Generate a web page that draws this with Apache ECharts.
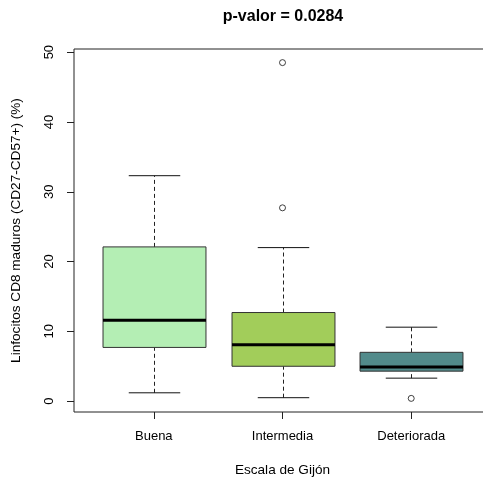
<!DOCTYPE html>
<html>
<head>
<meta charset="utf-8">
<script src="https://cdn.jsdelivr.net/npm/echarts@6/dist/echarts.min.js"></script>
<style>html,body{margin:0;padding:0;background:#fff}#c{width:483px;height:481px}</style>
</head>
<body>
<div id="c"></div>
<script>
var categories = ['Buena', 'Intermedia', 'Deteriorada'];
var lowerWhisker = [1.2, 0.5, 3.3];
var q1 = [7.7, 5.0, 4.3];
var median = [11.6, 8.1, 4.9];
var q3 = [22.1, 12.7, 7.0];
var upperWhisker = [32.3, 22.0, 10.6];
var outlierGroup = [2, 2, 3];
var outlierValue = [48.5, 27.7, 0.4];
var fillColors = ['#B4EEB4', '#A2CD5A', '#528B8B'];
var yTicks = [0, 10, 20, 30, 40, 50];
var titleText = 'p-valor = 0.0284';
var xName = 'Escala de Gijón';
var yName = 'Linfocitos CD8 maduros (CD27-CD57+) (%)';

var font = 'Liberation Sans, Arial, sans-serif';
var boxData = categories.map(function (c, i) {
  return [i + 1, lowerWhisker[i], q1[i], median[i], q3[i], upperWhisker[i]];
});
var outData = outlierGroup.map(function (g, i) { return [g, outlierValue[i]]; });

var chart = echarts.init(document.getElementById('c'), null, {renderer: 'canvas'});
chart.setOption({
  animation: false,
  backgroundColor: '#fff',
  graphic: [{
    type: 'text', x: 283, y: 17,
    style: {text: titleText, font: 'bold 16px ' + font, fill: '#000', align: 'center', verticalAlign: 'middle'}
  }],
  grid: {left: 74, top: 49, right: -8, bottom: 69, show: true, borderColor: '#222', borderWidth: 1,
    backgroundColor: 'transparent', containLabel: false, outerBoundsMode: 'none'},
  xAxis: {
    type: 'value', min: 0.38, max: 3.62,
    splitLine: {show: false},
    axisLine: {show: false, onZero: false},
    axisTick: {show: true, length: 7, customValues: [1, 2, 3], lineStyle: {color: '#222'}},
    axisLabel: {customValues: [1, 2, 3], margin: 18, fontSize: 13, fontFamily: font, color: '#000',
      formatter: function (v) { return categories[Math.round(v) - 1] || ''; }},
    name: xName, nameLocation: 'middle', nameGap: 51,
    nameTextStyle: {fontSize: 13.6, fontFamily: font, color: '#000'}
  },
  yAxis: {
    type: 'value', min: -1.55, max: 50.45,
    splitLine: {show: false},
    axisLine: {show: false, onZero: false},
    axisTick: {show: true, length: 7, customValues: yTicks, lineStyle: {color: '#222'}},
    axisLabel: {customValues: yTicks, rotate: 90, margin: 18, fontSize: 13, fontFamily: font, color: '#000'},
    name: yName, nameLocation: 'middle', nameGap: 51, nameRotate: 90,
    nameTextStyle: {fontSize: 13.6, fontFamily: font, color: '#000'}
  },
  series: [{
    type: 'custom',
    data: boxData,
    encode: {x: 0, y: [1, 2, 3, 4, 5]},
    renderItem: function (params, api) {
      var x = api.value(0);
      var lo = api.coord([x, api.value(1)]);
      var b1 = api.coord([x, api.value(2)]);
      var md = api.coord([x, api.value(3)]);
      var b3 = api.coord([x, api.value(4)]);
      var hi = api.coord([x, api.value(5)]);
      var w = api.size([0.8, 0])[0];
      var cx = Math.round(lo[0]) + 0.5;
      var hw = w / 2, cw = w / 4;
      var dash = {stroke: '#222', lineWidth: 1, lineDash: [4, 3]};
      var solid = {stroke: '#111', lineWidth: 1};
      return {
        type: 'group',
        children: [
          {type: 'line', shape: {x1: cx, y1: b3[1], x2: cx, y2: hi[1]}, style: dash},
          {type: 'line', shape: {x1: cx, y1: lo[1], x2: cx, y2: b1[1]}, style: dash},
          {type: 'line', shape: {x1: cx - cw, y1: hi[1], x2: cx + cw, y2: hi[1]}, style: solid},
          {type: 'line', shape: {x1: cx - cw, y1: lo[1], x2: cx + cw, y2: lo[1]}, style: solid},
          {type: 'rect', shape: {x: cx - hw, y: b3[1], width: w, height: b1[1] - b3[1]},
            style: {fill: fillColors[params.dataIndex], stroke: '#333', lineWidth: 1}},
          {type: 'line', shape: {x1: cx - hw, y1: md[1], x2: cx + hw, y2: md[1]}, style: {stroke: '#000', lineWidth: 3}}
        ]
      };
    }
  }, {
    type: 'scatter',
    data: outData,
    symbol: 'circle', symbolSize: 6,
    itemStyle: {color: '#fff', borderColor: '#111', borderWidth: 1}
  }]
});
</script>
</body>
</html>
